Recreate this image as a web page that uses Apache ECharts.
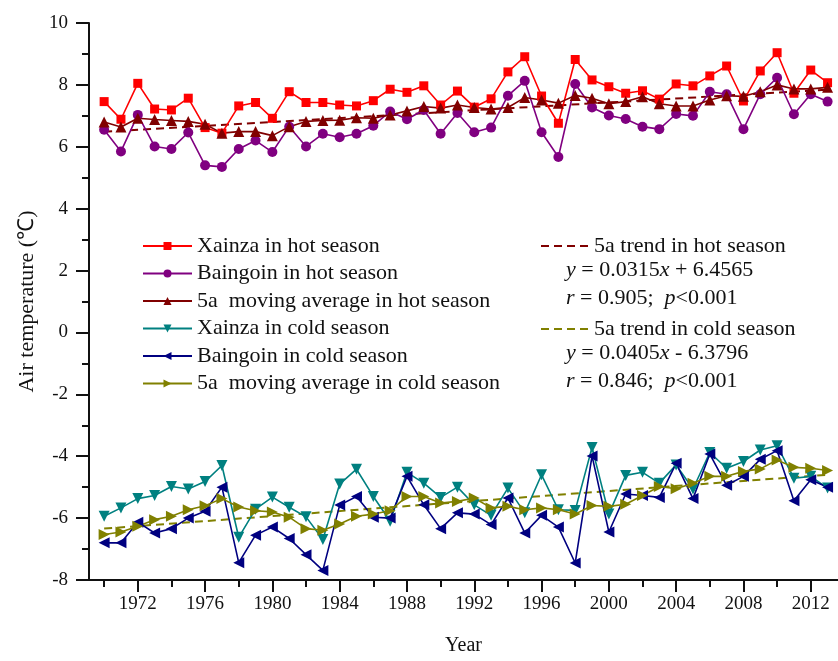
<!DOCTYPE html>
<html>
<head>
<meta charset="utf-8">
<script src="https://cdn.jsdelivr.net/npm/echarts@6/dist/echarts.min.js"></script>
<style>
  html, body { margin: 0; padding: 0; background: #fff; }
  #chart { width: 838px; height: 661px; }
</style>
</head>
<body>
<div id="chart"></div>
<script>
// Seasonal air temperature at Xainza and Baingoin, 1970-2013
const years = [1970,1971,1972,1973,1974,1975,1976,1977,1978,1979,
  1980,1981,1982,1983,1984,1985,1986,1987,1988,1989,
  1990,1991,1992,1993,1994,1995,1996,1997,1998,1999,
  2000,2001,2002,2003,2004,2005,2006,2007,2008,2009,
  2010,2011,2012,2013];

const xainzaHot = [7.46,6.89,8.05,7.22,7.19,7.57,6.62,6.44,7.32,7.43,
  6.92,7.78,7.43,7.43,7.35,7.32,7.49,7.86,7.76,7.97,
  7.35,7.80,7.28,7.55,8.42,8.91,7.64,6.76,8.82,8.16,
  7.94,7.73,7.81,7.54,8.03,7.97,8.29,8.61,7.48,8.45,
  9.04,7.73,8.48,8.07];
const baingoinHot = [6.55,5.85,7.03,6.01,5.93,6.46,5.40,5.35,5.93,6.20,
  5.83,6.65,6.01,6.42,6.31,6.42,6.68,7.14,6.89,7.19,
  6.42,7.09,6.47,6.62,7.65,8.13,6.47,5.67,8.03,7.27,
  7.01,6.90,6.65,6.57,7.06,7.00,7.78,7.70,6.57,7.70,
  8.23,7.05,7.70,7.46];
const movingAvgHot = [6.80,6.64,6.92,6.88,6.85,6.82,6.73,6.44,6.49,6.49,
  6.36,6.65,6.82,6.85,6.86,6.94,6.92,7.03,7.16,7.30,
  7.25,7.35,7.27,7.22,7.27,7.59,7.51,7.41,7.66,7.57,
  7.39,7.46,7.62,7.39,7.32,7.32,7.51,7.65,7.63,7.78,
  8.00,7.87,7.87,7.92];

const xainzaCold = [-5.94,-5.67,-5.37,-5.27,-4.98,-5.06,-4.82,-4.30,-6.62,-5.71,
  -5.32,-5.65,-5.96,-6.69,-4.90,-4.42,-5.30,-6.10,-4.52,-4.87,
  -5.33,-5.00,-5.57,-5.91,-5.03,-5.83,-4.60,-5.73,-5.75,-3.72,
  -5.87,-4.62,-4.52,-4.87,-4.28,-5.06,-3.88,-4.39,-4.17,-3.80,
  -3.66,-4.71,-4.65,-5.03];
const baingoinCold = [-6.80,-6.80,-6.13,-6.48,-6.34,-6.00,-5.78,-5.00,-7.44,-6.55,
  -6.29,-6.66,-7.18,-7.69,-5.58,-5.30,-5.97,-6.00,-4.65,-5.57,
  -6.34,-5.83,-5.87,-6.21,-5.35,-6.48,-5.91,-6.29,-7.45,-3.99,
  -6.45,-5.22,-5.27,-5.33,-4.23,-5.37,-3.93,-4.94,-4.65,-4.10,
  -3.82,-5.44,-4.76,-5.00];
const movingAvgCold = [-6.53,-6.45,-6.26,-6.05,-5.94,-5.73,-5.60,-5.37,-5.64,-5.76,
  -5.80,-5.97,-6.34,-6.39,-6.19,-5.94,-5.87,-5.76,-5.30,-5.30,
  -5.51,-5.46,-5.35,-5.67,-5.62,-5.73,-5.67,-5.73,-5.87,-5.59,
  -5.62,-5.55,-5.27,-4.98,-5.05,-4.87,-4.65,-4.65,-4.49,-4.41,
  -4.12,-4.36,-4.39,-4.46];

// Linear trends (x = 1 for the first year)
const hotTrend = { slope: 0.0315, intercept: 6.4565, r: '0.905', p: '0.001' };
const coldTrend = { slope: 0.0405, intercept: -6.3796, r: '0.846', p: '0.001' };

const majorYearTicks = [1972,1976,1980,1984,1988,1992,1996,2000,2004,2008,2012];
const minorYearTicks = [1970,1974,1978,1982,1986,1990,1994,1998,2002,2006,2010];

const FONT = "'Liberation Serif', 'Times New Roman', serif";
const INK = '#111';
const LEGEND_SIZE = 22;

function pairs(vals) { return years.map((y, i) => [y, vals[i]]); }
function trendLine(t) {
  const n = years.length;
  return [
    [years[0], t.intercept + t.slope * 1],
    [years[n - 1], t.intercept + t.slope * n]
  ];
}

function markerSeries(name, vals, color, symbol, rotate, size) {
  return {
    name, type: 'line', data: pairs(vals),
    symbol, symbolRotate: rotate, symbolSize: size,
    lineStyle: { color, width: 1.6 },
    itemStyle: { color },
    animation: false, z: 3
  };
}

function trendSeries(name, t, color) {
  return {
    name, type: 'line', data: trendLine(t),
    symbol: 'none', lineStyle: { color, width: 2, type: [8, 5] },
    itemStyle: { color }, animation: false, z: 2
  };
}

const series = [
  markerSeries('Xainza in hot season', xainzaHot, '#ff0000', 'rect', 0, 9),
  markerSeries('Baingoin in hot season', baingoinHot, '#800080', 'circle', 0, 10),
  markerSeries('5a  moving average in hot season', movingAvgHot, '#800000', 'triangle', 0, 11),
  markerSeries('Xainza in cold season', xainzaCold, '#008080', 'triangle', 180, 11),
  markerSeries('Baingoin in cold season', baingoinCold, '#000080', 'triangle', 90, 11),
  markerSeries('5a  moving average in cold season', movingAvgCold, '#808000', 'triangle', -90, 11),
  trendSeries('5a trend in hot season', hotTrend, '#800000'),
  trendSeries('5a trend in cold season', coldTrend, '#808000')
];

const legendText = { fontFamily: FONT, fontSize: LEGEND_SIZE, color: INK, lineHeight: 22 };
const rich = {
  i: { fontFamily: FONT, fontSize: LEGEND_SIZE, fontStyle: 'italic', fill: INK },
  n: { fontFamily: FONT, fontSize: LEGEND_SIZE, fill: INK }
};
function eqText(x, y, text) {
  return {
    type: 'text', left: x, top: y, z: 10,
    style: { text, rich, font: LEGEND_SIZE + 'px ' + FONT, fill: INK }
  };
}
function trendLegend(top, name) {
  return {
    orient: 'vertical', left: 535, top,
    itemWidth: 48, itemHeight: 10, itemGap: 0,
    itemStyle: { opacity: 0 },
    textStyle: legendText,
    data: [name]
  };
}

const chart = echarts.init(document.getElementById('chart'), null, { renderer: 'canvas' });
chart.setOption({
  backgroundColor: '#fff',
  animation: false,
  grid: { left: 89, right: 0, top: 23, bottom: 79 },
  xAxis: [{
    type: 'value', min: 1969.1, max: 2013.62,
    name: 'Year', nameLocation: 'middle', nameGap: 56,
    nameTextStyle: { fontFamily: FONT, fontSize: 20, color: INK },
    axisLine: { onZero: false, lineStyle: { color: INK, width: 2 } },
    axisTick: { show: true, length: 12, lineStyle: { color: INK, width: 2 }, customValues: majorYearTicks },
    axisLabel: { fontFamily: FONT, fontSize: 19, color: INK, margin: 15, customValues: majorYearTicks, formatter: v => String(v) },
    splitLine: { show: false }
  }, {
    type: 'value', min: 1969.1, max: 2013.62, position: 'bottom',
    axisLine: { show: false, onZero: false },
    axisTick: { show: true, length: 7, lineStyle: { color: INK, width: 2 }, customValues: minorYearTicks },
    axisLabel: { show: false },
    splitLine: { show: false }
  }],
  yAxis: {
    type: 'value', min: -8, max: 10, interval: 2,
    name: 'Air temperature (\u2103)', nameLocation: 'middle', nameGap: 49, nameRotate: 90,
    nameTextStyle: { fontFamily: FONT, fontSize: 22, color: INK },
    axisLine: { show: true, onZero: false, lineStyle: { color: INK, width: 2 } },
    axisTick: { show: true, length: 13, lineStyle: { color: INK, width: 2 } },
    minorTick: { show: true, splitNumber: 2, length: 7, lineStyle: { color: INK, width: 2 } },
    axisLabel: { fontFamily: FONT, fontSize: 19, color: INK, margin: 21 },
    splitLine: { show: false }
  },
  legend: [{
    orient: 'vertical', left: 137, top: 230,
    itemWidth: 49, itemHeight: 10, itemGap: 5.5,
    textStyle: legendText,
    data: ['Xainza in hot season', 'Baingoin in hot season', '5a  moving average in hot season',
      'Xainza in cold season', 'Baingoin in cold season', '5a  moving average in cold season']
  },
    trendLegend(230, '5a trend in hot season'),
    trendLegend(313, '5a trend in cold season')
  ],
  graphic: [
    eqText(566, 259, '{i|y}{n| = ' + hotTrend.slope + '}{i|x}{n| + ' + hotTrend.intercept + '}'),
    eqText(566, 287, '{i|r}{n| = ' + hotTrend.r + ';  }{i|p}{n|<' + hotTrend.p + '}'),
    eqText(566, 342, '{i|y}{n| = ' + coldTrend.slope + '}{i|x}{n| - ' + Math.abs(coldTrend.intercept) + '}'),
    eqText(566, 370, '{i|r}{n| = ' + coldTrend.r + ';  }{i|p}{n|<' + coldTrend.p + '}')
  ],
  series
});
</script>
</body>
</html>
